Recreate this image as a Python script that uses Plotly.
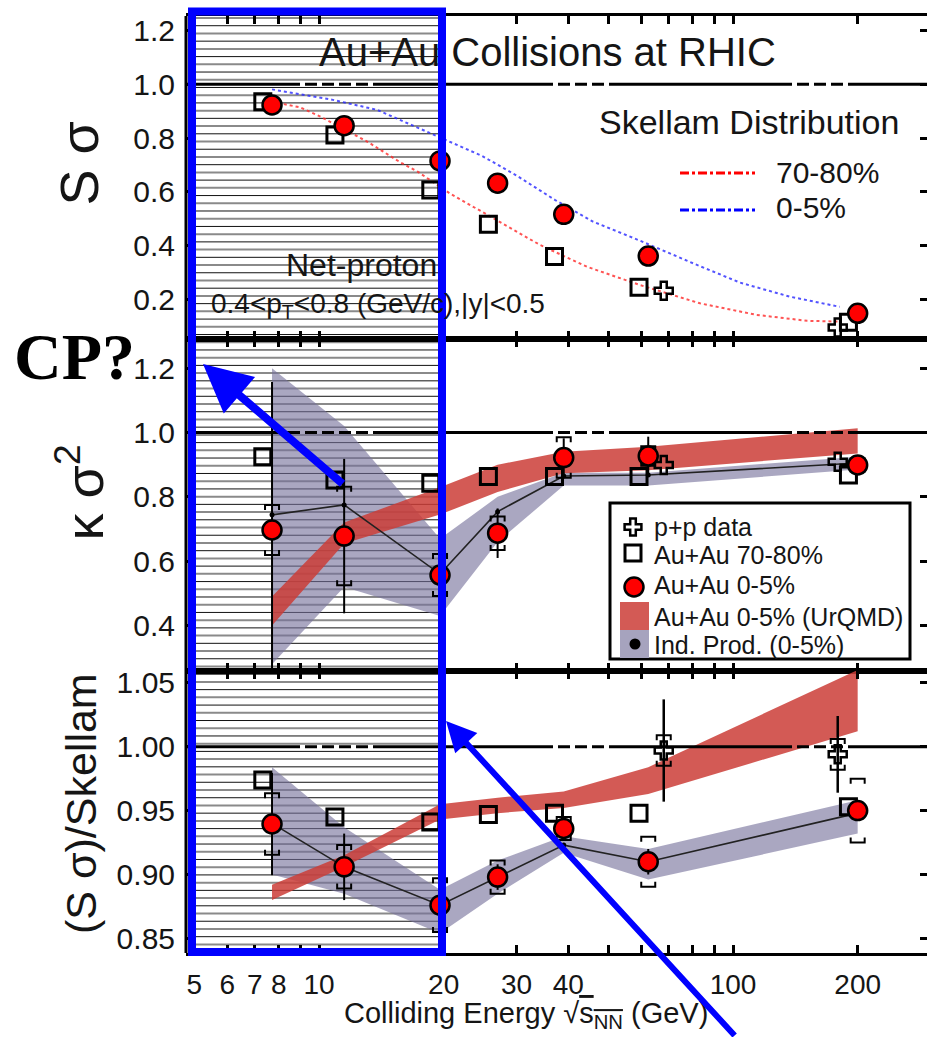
import math
import plotly.graph_objects as go

# ---------------------------------------------------------------- data
energy = [7.7, 11.5, 19.6, 27, 39, 62.4, 200]          # sqrt(s_NN) in GeV
pp_energy = [62.4, 200]

# S*sigma
ssigma_0_5 = [0.923, 0.846, 0.715, 0.632, 0.516, 0.361, 0.148]
ssigma_70_80 = [0.935, 0.811, 0.607, 0.479, 0.359, 0.245, 0.115]
ssigma_pp = [0.232, 0.095]

skellam_0_5_energy = [7.7, 10.8, 13.8, 19.3, 24.8, 30.1, 37.2, 45.9, 59.6, 81.8, 104, 137, 181]
skellam_0_5 = [0.981, 0.942, 0.905, 0.805, 0.733, 0.659, 0.569, 0.489, 0.418, 0.328, 0.262, 0.210, 0.172]
skellam_70_80_energy = [7.7, 9.0, 10.1, 13.1, 15.7, 17.3, 20.7, 24.8, 34.2, 44.4, 59.6, 83.2, 114, 151, 181]
skellam_70_80 = [0.935, 0.914, 0.879, 0.786, 0.710, 0.675, 0.594, 0.524, 0.402, 0.321, 0.253, 0.185, 0.142, 0.120, 0.117]

# kappa*sigma^2
ks2_0_5 = [0.697, 0.678, 0.557, 0.687, 0.922, 0.927, 0.899]
ks2_0_5_stat = [0.46, 0.24, 0.03, 0.077, 0.06, 0.06, 0.02]
ks2_0_5_sys = [0.078, 0.153, 0.065, 0.052, 0.063, 0.03, 0.02]
ks2_70_80 = [0.925, 0.852, 0.842, 0.863, 0.863, 0.863, 0.868]
ks2_pp = [0.899, 0.909]
ks2_urqmd_low = [0.40, 0.655, 0.745, 0.815, 0.873, 0.883, 0.935]
ks2_urqmd_high = [0.49, 0.72, 0.83, 0.90, 0.94, 0.956, 1.013]
ks2_indprod = [0.744, 0.775, 0.56, 0.754, 0.865, 0.868, 0.905]
ks2_indprod_low = [0.28, 0.52, 0.43, 0.66, 0.835, 0.835, 0.885]
ks2_indprod_high = [1.20, 1.02, 0.67, 0.80, 0.875, 0.875, 0.925]

# (S*sigma)/Skellam
ratio_0_5 = [0.9395, 0.906, 0.876, 0.898, 0.936, 0.910, 0.950]
ratio_0_5_stat = [0.04, 0.026, 0.015, 0.01, 0.008, 0.01, 0.008]
ratio_0_5_sys = [0.024, 0.017, 0.021, 0.013, 0.009, 0.0195, 0.025]
ratio_70_80 = [0.974, 0.945, 0.941, 0.947, 0.948, 0.948, 0.953]
ratio_pp = [0.997, 0.994]
ratio_pp_stat = [0.04, 0.03]
ratio_pp_sys = [0.012, 0.012]
ratio_urqmd_low = [0.880, 0.906, 0.943, 0.948, 0.952, 0.963, 1.012]
ratio_urqmd_high = [0.892, 0.915, 0.955, 0.960, 0.965, 0.984, 1.060]
ratio_indprod = [0.940, 0.906, 0.876, 0.898, 0.923, 0.910, 0.948]
ratio_indprod_low = [0.900, 0.885, 0.854, 0.885, 0.917, 0.896, 0.932]
ratio_indprod_high = [0.984, 0.937, 0.888, 0.911, 0.930, 0.920, 0.958]

# axis ticks
x_tick_vals = [5, 6, 7, 8, 9, 10, 20, 30, 40, 50, 60, 70, 80, 90, 100, 200]
x_tick_text = ["5", "6", "7", "8", "", "10", "20", "30", "40", "", "", "", "", "", "100", "200"]
x_long_ticks = [10, 100]
y_ticks_ssigma = [0.2, 0.4, 0.6, 0.8, 1.0, 1.2]
y_ticks_ks2 = [0.4, 0.6, 0.8, 1.0, 1.2]
y_ticks_ratio = [0.85, 0.90, 0.95, 1.00, 1.05]

# ---------------------------------------------------------------- canvas geometry
FIG_W, FIG_H = 927, 1037
L, R, T, B = 186, 927, 16, 953
PW, PH = R - L, B - T
FONT = "Liberation Sans, Arial, sans-serif"
INK = "#151515"


def px(x):
    return (x - L) / PW


def py(y):
    return (B - y) / PH


X_RANGE = [math.log10(4.772), math.log10(294.1)]

panels = [
    dict(x="x", y="y", top=16, bottom=339, rng=[0.0523, 1.254], ticks=y_ticks_ssigma, fmt=".1f"),
    dict(x="x2", y="y2", top=339, bottom=671, rng=[0.2587, 1.2906], ticks=y_ticks_ks2, fmt=".1f"),
    dict(x="x3", y="y3", top=671, bottom=953, rng=[0.8386, 1.0592], ticks=y_ticks_ratio, fmt=".2f"),
]

# horizontal display offsets so that overlapping points stay visible
PERIPH_SHIFT = 0.95
PP_SHIFT = [1.09, 0.895]
BRACKET_HALF = 10 ** (7 / 414)

RED = "#ff0000"
URQMD_FILL = "rgba(203,61,55,0.85)"
INDPROD_FILL = "rgba(118,113,155,0.62)"

CIRCLE = dict(symbol="circle", size=19, color=RED, line=dict(color="black", width=2.5))
SQUARE = dict(symbol="square-open", size=16, color="black", line=dict(color="black", width=3))
CROSS = dict(symbol="cross-open", size=15, color="black", line=dict(color="black", width=2.5))

fig = go.Figure()

periph_x = [e * PERIPH_SHIFT for e in energy]
pp_x = [e * s for e, s in zip(pp_energy, PP_SHIFT)]


def band(xs, lo, hi, color, ax):
    return go.Scatter(x=list(xs) + list(xs)[::-1], y=list(hi) + list(lo)[::-1],
                      fill="toself", fillcolor=color, line=dict(width=0), mode="lines",
                      hoverinfo="skip", showlegend=False, xaxis=ax["x"], yaxis=ax["y"])


def brackets(xs, ys, errs, ax, leg_px=5):
    leg = leg_px * (ax["rng"][1] - ax["rng"][0]) / (ax["bottom"] - ax["top"])
    bx, by = [], []
    for x, y, e in zip(xs, ys, errs):
        xl, xr = x / BRACKET_HALF, x * BRACKET_HALF
        for sgn in (1, -1):
            yc = y + sgn * e
            bx += [xl, xl, xr, xr, None]
            by += [yc - sgn * leg, yc, yc, yc - sgn * leg, None]
    return go.Scatter(x=bx, y=by, mode="lines", line=dict(color="black", width=2),
                      hoverinfo="skip", showlegend=False, xaxis=ax["x"], yaxis=ax["y"])


def points(xs, ys, marker, ax, err=None, err_w=2):
    kw = {}
    if err is not None:
        kw["error_y"] = dict(type="data", array=err, visible=True, color="black",
                             thickness=err_w, width=0)
    return go.Scatter(x=xs, y=ys, mode="markers", marker=marker, showlegend=False,
                      xaxis=ax["x"], yaxis=ax["y"], **kw)


# ---- top panel: S*sigma
p = panels[0]
fig.add_trace(go.Scatter(x=skellam_70_80_energy, y=skellam_70_80, mode="lines",
                         line=dict(color="rgba(255,40,40,0.8)", width=2, dash="dot"),
                         showlegend=False, xaxis=p["x"], yaxis=p["y"]))
fig.add_trace(go.Scatter(x=skellam_0_5_energy, y=skellam_0_5, mode="lines",
                         line=dict(color="rgba(40,40,255,0.8)", width=2, dash="dot"),
                         showlegend=False, xaxis=p["x"], yaxis=p["y"]))
fig.add_trace(points(periph_x, ssigma_70_80, SQUARE, p))
fig.add_trace(points(pp_x, ssigma_pp, CROSS, p))
fig.add_trace(points(energy, ssigma_0_5, CIRCLE, p))

# ---- middle panel: kappa*sigma^2
p = panels[1]
fig.add_trace(band(energy, ks2_indprod_low, ks2_indprod_high, INDPROD_FILL, p))
fig.add_trace(band(energy, ks2_urqmd_low, ks2_urqmd_high, URQMD_FILL, p))
fig.add_trace(go.Scatter(x=energy, y=ks2_indprod, mode="lines+markers",
                         line=dict(color="#222", width=1.6), marker=dict(size=5, color="black"),
                         showlegend=False, xaxis=p["x"], yaxis=p["y"]))
fig.add_trace(brackets(energy, ks2_0_5, ks2_0_5_sys, p))
fig.add_trace(points(periph_x, ks2_70_80, SQUARE, p))
fig.add_trace(points(pp_x, ks2_pp, CROSS, p))
fig.add_trace(points(energy, ks2_0_5, CIRCLE, p, err=ks2_0_5_stat))

# ---- bottom panel: (S*sigma)/Skellam
p = panels[2]
fig.add_trace(band(energy, ratio_indprod_low, ratio_indprod_high, INDPROD_FILL, p))
fig.add_trace(band(energy, ratio_urqmd_low, ratio_urqmd_high, URQMD_FILL, p))
fig.add_trace(go.Scatter(x=energy, y=ratio_indprod, mode="lines+markers",
                         line=dict(color="#222", width=1.6), marker=dict(size=5, color="black"),
                         showlegend=False, xaxis=p["x"], yaxis=p["y"]))
fig.add_trace(brackets(energy, ratio_0_5, ratio_0_5_sys, p))
fig.add_trace(brackets(pp_x, ratio_pp, ratio_pp_sys, p))
fig.add_trace(points(periph_x, ratio_70_80, SQUARE, p))
fig.add_trace(points(pp_x, ratio_pp, CROSS, p, err=ratio_pp_stat, err_w=2.5))
fig.add_trace(points(energy, ratio_0_5, CIRCLE, p, err=ratio_0_5_stat))

# ---------------------------------------------------------------- axes
layout = dict(
    width=FIG_W, height=FIG_H,
    margin=dict(l=L, r=FIG_W - R, t=T, b=FIG_H - B, pad=0),
    paper_bgcolor="white", plot_bgcolor="rgba(0,0,0,0)",
    showlegend=False, font=dict(family=FONT, color=INK),
)
for i, p in enumerate(panels):
    n = "" if i == 0 else str(i + 1)
    d0, d1 = py(p["bottom"]), py(p["top"])
    layout["xaxis" + n] = dict(
        type="log", range=X_RANGE, domain=[0, 1], anchor=p["y"],
        showline=True, linewidth=3, linecolor="black", mirror="allticks",
        ticks="inside", ticklen=8, tickwidth=2.5, tickcolor="black",
        tickvals=x_tick_vals, ticktext=x_tick_text,
        showticklabels=(i == 2), tickfont=dict(size=28, family=FONT, color=INK),
        ticklabelstandoff=4, showgrid=False, zeroline=False,
    )
    layout["yaxis" + n] = dict(
        range=p["rng"], domain=[max(d0, 0), min(d1, 1)], anchor=p["x"],
        showline=False, mirror="ticks", ticks="inside", ticklen=7, tickwidth=2.5,
        tickcolor="black", tickvals=p["ticks"], tickformat=p["fmt"],
        tickfont=dict(size=30, family=FONT, color=INK), ticklabelstandoff=10,
        showgrid=False, zeroline=False,
    )

# pixel-space overlay used for the key
layout["xaxis4"] = dict(domain=[0, 1], range=[L, R], visible=False, anchor="y4", fixedrange=True)
layout["yaxis4"] = dict(domain=[0, 1], range=[B, T], visible=False, anchor="x4", fixedrange=True)
fig.update_layout(**layout)

# ---------------------------------------------------------------- shapes
shapes = []

# horizontal hatching over the low-energy region
hatch_gray, hatch_black = [], []
k, yy = 0, 18.0
while yy <= B:
    seg = f"M{px(190):.5f},{py(yy):.5f}H{px(442):.5f}"
    (hatch_gray if k % 2 == 0 else hatch_black).append(seg)
    k += 1
    yy += 7.72
shapes.append(dict(type="path", xref="paper", yref="paper", path="".join(hatch_gray),
                   line=dict(color="#8a8a8a", width=2), layer="below"))
shapes.append(dict(type="path", xref="paper", yref="paper", path="".join(hatch_black),
                   line=dict(color="#111", width=1), layer="below"))

# left frame line
shapes.append(dict(type="line", xref="paper", yref="paper", x0=0, x1=0, y0=0, y1=1,
                   line=dict(color="black", width=3), layer="above"))


# reference line at unity, partly dashed
def dash_string(solid_px, dash=12, gap=5):
    pieces, cur = [], L
    for a, b in solid_px:
        pos, on = cur, False
        while pos < a - 0.5:
            seg = min(dash if on else gap, a - pos)
            pieces.append([on, seg])
            pos += seg
            on = not on
        pieces.append([True, b - a])
        cur = b
    merged = []
    for on, ln in pieces:
        if merged and merged[-1][0] == on:
            merged[-1][1] += ln
        else:
            merged.append([on, ln])
    return ",".join(f"{ln:.0f}px" for _, ln in merged)


unity_dash = dash_string([(186, 300), (377, 553), (613, 792), (853, 930)])
for p in panels:
    shapes.append(dict(type="line", xref="paper", yref=p["y"], x0=0, x1=1, y0=1.0, y1=1.0,
                       line=dict(color="black", width=3, dash=unity_dash), layer="above"))
    # long ticks at decades, top and bottom
    frac = 16 / (p["bottom"] - p["top"])
    for xv in x_long_ticks:
        for a, b in ((0, frac), (1 - frac, 1)):
            shapes.append(dict(type="line", xref=p["x"], yref=p["y"] + " domain",
                               x0=math.log10(xv), x1=math.log10(xv), y0=a, y1=b,
                               line=dict(color="black", width=2.5), layer="above"))

# key box and band swatches
shapes.append(dict(type="rect", xref="x4", yref="y4", x0=610, x1=910, y0=503, y1=659,
                   line=dict(color="black", width=3), fillcolor="white", layer="below"))
shapes.append(dict(type="rect", xref="x4", yref="y4", x0=620, x1=649, y0=602, y1=630,
                   line=dict(width=0), fillcolor="rgb(211,90,85)", layer="below"))
shapes.append(dict(type="rect", xref="x4", yref="y4", x0=620, x1=649, y0=630, y1=658,
                   line=dict(width=0), fillcolor="rgb(166,163,190)", layer="below"))

# highlighted low-energy window
shapes.append(dict(type="rect", xref="paper", yref="paper", x0=px(192), x1=px(442),
                   y0=py(952), y1=py(11.5), line=dict(color="#0000ff", width=8), layer="above"))
fig.update_layout(shapes=shapes)

# key symbols (pixel-space overlay)
for xs, ys, mk in (([633], [527], dict(CROSS, size=14)),
                   ([633], [553], SQUARE),
                   ([634], [587], CIRCLE),
                   ([635], [644], dict(symbol="circle", size=11, color="black"))):
    fig.add_trace(go.Scatter(x=xs, y=ys, mode="markers", marker=mk, cliponaxis=False,
                             showlegend=False, xaxis="x4", yaxis="y4"))
fig.add_trace(go.Scatter(x=[680, 755], y=[173, 173], mode="lines",
                         line=dict(color="#ff0000", width=3, dash="dashdot"),
                         showlegend=False, xaxis="x4", yaxis="y4"))
fig.add_trace(go.Scatter(x=[680, 755], y=[210, 210], mode="lines",
                         line=dict(color="#0000ff", width=3, dash="dashdot"),
                         showlegend=False, xaxis="x4", yaxis="y4"))

# ---------------------------------------------------------------- text
def label(text, x, y, size, anchor="left", angle=0, family=FONT, color=INK):
    return dict(text=text, x=px(x), y=py(y), xref="paper", yref="paper",
                xanchor=anchor, yanchor="middle", showarrow=False, textangle=angle,
                font=dict(size=size, family=family, color=color))


annotations = [
    label("Au+Au Collisions at RHIC", 317, 51.5, 40),
    label("Skellam Distribution", 597, 122.5, 34),
    label("70-80%", 774, 172.5, 30),
    label("0-5%", 774, 207.5, 30),
    label("Net-proton", 284, 265, 32),
    label("0.4&lt;p<sub>T</sub>&lt;0.8 (GeV/c),|y|&lt;0.5", 209, 305, 28),
    label("p+p data", 652, 527, 25),
    label("Au+Au 70-80%", 652, 555, 25),
    label("Au+Au 0-5%", 652, 585, 25),
    label("Au+Au 0-5% (UrQMD)", 652, 617, 25),
    label("Ind. Prod. (0-5%)", 652, 645, 25),
    label("S σ", 79, 163.5, 54, anchor="center", angle=-90),
    label("κ σ<sup>2</sup>", 80, 492.5, 54, anchor="center", angle=-90),
    label("(S σ)/Skellam", 81, 804, 43, anchor="center", angle=-90),
    label("Colliding Energy √<span style='text-decoration:overline'>s<sub>NN</sub></span> (GeV)",
          342, 1015, 29),
    label("<b>CP?</b>", 74.5, 356, 66, anchor="center",
          family="Liberation Serif, Times New Roman, serif", color="black"),
    dict(x=px(203), y=py(364), xref="paper", yref="paper", ax=141, ay=121,
         axref="pixel", ayref="pixel", showarrow=True, arrowhead=2, arrowsize=1.2,
         arrowwidth=8, arrowcolor="#0000ff", text="", standoff=0),
    dict(x=px(446), y=py(721), xref="paper", yref="paper", ax=290, ay=323,
         axref="pixel", ayref="pixel", showarrow=True, arrowhead=2, arrowsize=1.0,
         arrowwidth=6, arrowcolor="#0000ff", text="", standoff=0),
]
fig.update_layout(annotations=annotations)

fig.write_html("out.html")
